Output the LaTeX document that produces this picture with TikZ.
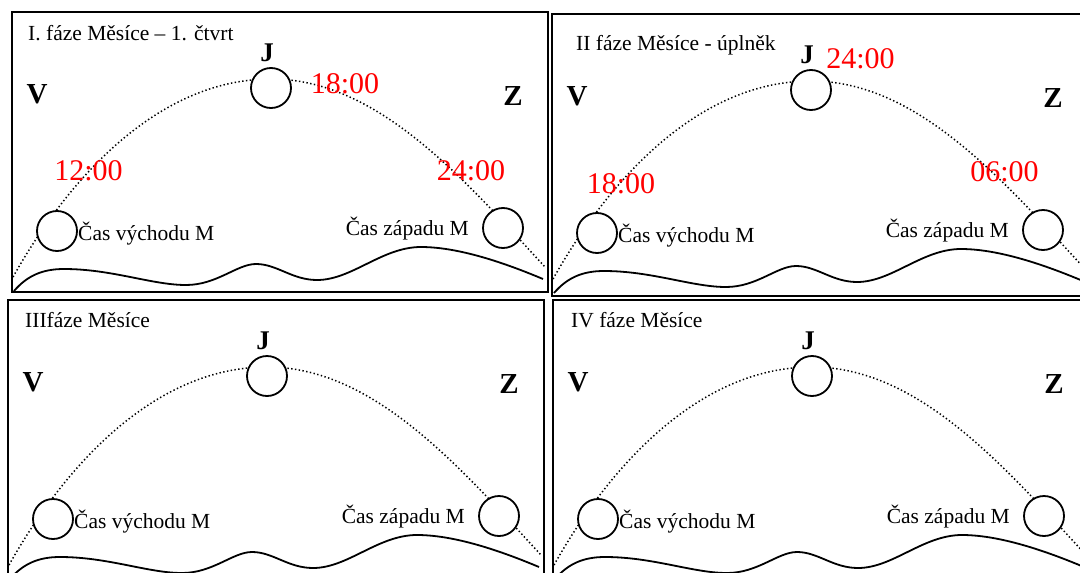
\documentclass[tikz,border=0pt]{standalone}
\usepackage{fontspec}
\setmainfont{Liberation Serif}
\begin{document}
\begin{tikzpicture}[x=1pt,y=-1pt,
    panel/.style={line width=1.8pt},
    moon/.style={circle,draw,line width=1.8pt,fill=white,minimum size=40pt,inner sep=0pt},
    moonpath/.style={line width=1.5pt,dash pattern=on 1.4pt off 2.4pt},
    hill/.style={line width=1.8pt},
    popis/.style={font=\fontsize{21.5}{24}\selectfont,inner sep=0pt},
    strana/.style={font=\fontsize{29}{34}\selectfont\bfseries,inner sep=0pt},
    jih/.style={font=\fontsize{27}{30}\selectfont\bfseries,inner sep=0pt},
    hodiny/.style={font=\fontsize{30}{34}\selectfont,inner sep=0pt,text=red}]
    \useasboundingbox (0,0) rectangle (1080,573);
    \clip (0,0) rectangle (1080,573);

    % ctyri faze, stejny obrazek oblohy
    \foreach \n/\ox/\oy/\h/\tx/\ty/\nazev in {1/12/12/280/16/28/{I. fáze Měsíce – 1. čtvrt},
        2/552/14/282/24/36/{II fáze Měsíce - úplněk},
        3/8/300/280/17/27/{IIIfáze Měsíce},
        4/553/300/280/18/27/{IV fáze Měsíce}}{
        \begin{scope}[shift={(\ox,\oy)}]
            \draw[panel] (0,0) rectangle (536,\h);
            \node[popis,anchor=base west] (nazev\n) at (\tx,\ty) {\nazev};
            \node[jih,anchor=base] (J\n) at (255,49) {J};
            \node[strana,anchor=base] (V\n) at (25,91) {V};
            \node[strana,anchor=base] (Z\n) at (501,93) {Z};

            \draw[moonpath] (1,265) .. controls (60,160) and (150,67) .. (259,67)
                .. controls (365,67) and (450,165) .. (533,255);
            \draw[hill] (2,279) .. controls (15,264) and (30,257) .. (52,257)
                .. controls (100,257) and (140,273) .. (174,273)
                .. controls (205,273) and (225,252) .. (244,252)
                .. controls (265,252) and (280,268) .. (305,268)
                .. controls (340,268) and (370,235) .. (409,235)
                .. controls (450,235) and (500,254) .. (531,267);

            \node[moon] (top\n) at (259,76) {};
            \node[moon] (vychod\n) at (45,219) {};
            \node[moon] (zapad\n) at (491,216) {};
            \node[popis,anchor=base west] (tvychod\n) at (66,228) {Čas východu M};
            \node[popis,anchor=base east] (tzapad\n) at (457,223) {Čas západu M};
        \end{scope}
    }

    % casy
    \node[hodiny,anchor=base] (t12a) at (88.5,180) {12:00};
    \node[hodiny,anchor=base] (t18a) at (345,93) {18:00};
    \node[hodiny,anchor=base] (t24a) at (471,180) {24:00};
    \node[hodiny,anchor=base] (t18b) at (621,193) {18:00};
    \node[hodiny,anchor=base] (t24b) at (860.5,68) {24:00};
    \node[hodiny,anchor=base] (t06b) at (1004.5,181) {06:00};
\end{tikzpicture}
\end{document}
